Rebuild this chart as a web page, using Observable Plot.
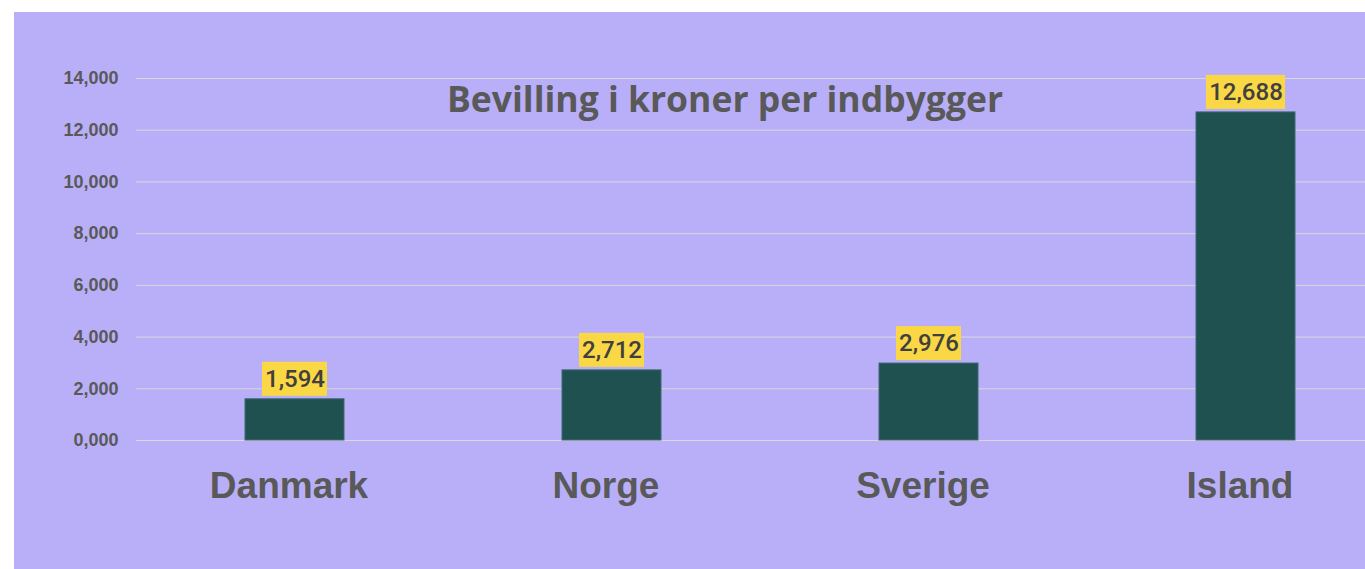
<!DOCTYPE html>
<html><head><meta charset="utf-8">
<script src="https://cdn.jsdelivr.net/npm/d3@7"></script>
<script src="https://cdn.jsdelivr.net/npm/@observablehq/plot@0.6"></script>
<style>
html,body{margin:0;padding:0;background:#fff;}
#wrap{position:absolute;left:14px;top:12px;width:1351px;height:557px;background:#b8aff8;}
</style></head><body><div id="wrap"></div>
<script>
const countries = ["Danmark", "Norge", "Sverige", "Island"];
const values = [1594, 2712, 2976, 12688];
const valueLabels = ["1,594", "2,712", "2,976", "12,688"];
const yTicks = [0, 2000, 4000, 6000, 8000, 10000, 12000, 14000];
const yTickLabels = ["0,000", "2,000", "4,000", "6,000", "8,000", "10,000", "12,000", "14,000"];
const title = "Bevilling i kroner per indbygger";

const data = countries.map((c, i) => ({country: c, value: values[i], label: valueLabels[i]}));
const grey = "#595959";

const chart = Plot.plot({
  width: 1351, height: 557,
  marginLeft: 122, marginRight: 0, marginTop: 66, marginBottom: 129,
  style: {background: "transparent", overflow: "visible", color: grey},
  x: {domain: countries, range: [122, 1390], paddingInner: 0.688, paddingOuter: 0.344, label: null},
  y: {domain: [0, 14000], label: null},
  marks: [
    Plot.ruleY(yTicks, {stroke: "#d9d9d9", strokeWidth: 1}),
    Plot.barY(data, {x: "country", y: "value", fill: "#1f5150", stroke: "#3e6870", strokeWidth: 1}),
    Plot.barY(data.filter(d => d.label.length === 5), {x: "country", y1: "value", y2: "value", fill: "#fad744", insetLeft: 17, insetRight: 17, insetTop: -37, insetBottom: 3}),
    Plot.barY(data.filter(d => d.label.length === 6), {x: "country", y1: "value", y2: "value", fill: "#fad744", insetLeft: 10, insetRight: 10, insetTop: -37, insetBottom: 3}),
    Plot.text(data, {x: "country", y: "value", text: "label", dy: -20, lineAnchor: "middle", fill: "#404040", fontSize: 24, fontWeight: 500, fontFamily: "Roboto"}),
    Plot.axisY(yTicks, {tickSize: 0, tickPadding: 18, tickFormat: d => yTickLabels[yTicks.indexOf(d)], fontSize: 18, fontWeight: 700, fill: grey, fontFamily: "Liberation Sans", label: null}),
    Plot.axisX({tickSize: 0, tickPadding: 31, dx: -6, fontSize: 37, fontWeight: 700, fill: grey, fontFamily: "Liberation Sans", label: null}),
    Plot.text([title], {frameAnchor: "top", dx: -26, dy: 8, fontSize: 35.5, fontWeight: 700, fill: grey, fontFamily: "Open Sans"})
  ]
});
document.getElementById("wrap").appendChild(chart);
</script></body></html>
